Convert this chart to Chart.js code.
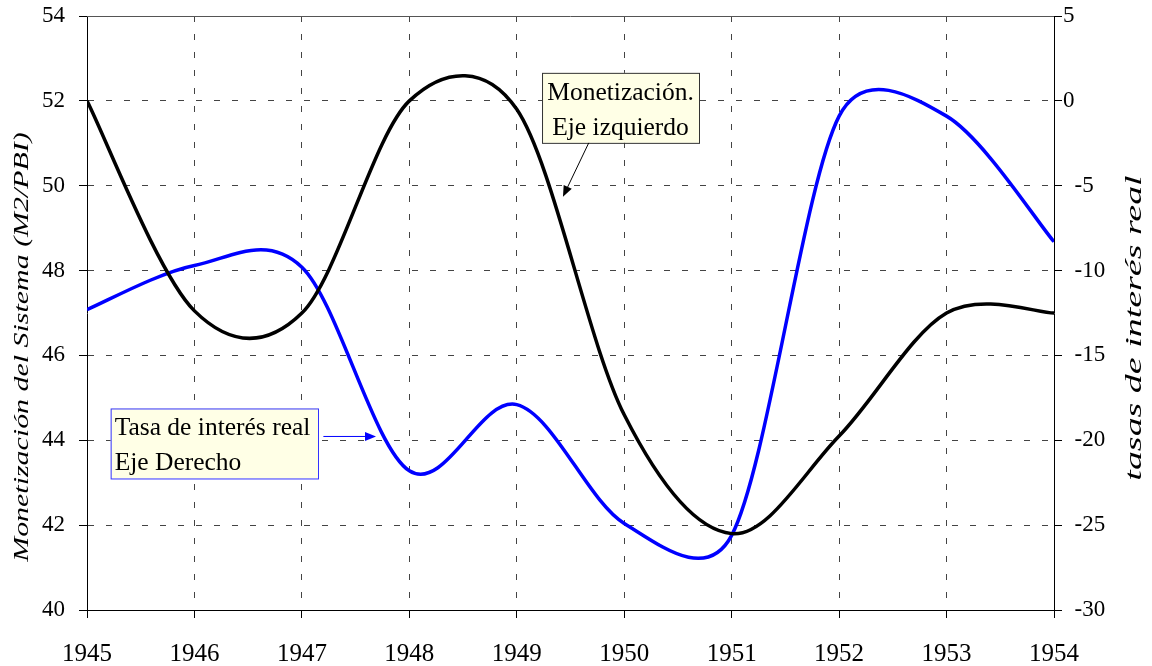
<!DOCTYPE html>
<html>
<head>
<meta charset="utf-8">
<script src="https://cdn.jsdelivr.net/npm/chart.js@4.4.1/dist/chart.umd.min.js"></script>
<style>
  html, body { margin: 0; padding: 0; background: #fff; }
  #wrap { width: 1152px; height: 666px; position: relative; }
</style>
</head>
<body>
<div id="wrap"><canvas id="chart"></canvas></div>
<script>
// --- datos ---
const years = [1945, 1946, 1947, 1948, 1949, 1950, 1951, 1952, 1953, 1954];
const monetizacion = [52.0, 47.05, 47.0, 52.0, 51.8, 44.6, 41.8, 44.1, 47.0, 47.0]; // eje izquierdo
const tasaReal = [-12.3, -9.7, -9.8, -21.8, -17.9, -24.9, -25.6, -0.9, -0.9, -8.3]; // eje derecho

const leftRange = [40, 54];
const rightRange = [-30, 5];

const SERIF = "'Liberation Serif', 'Times New Roman', serif";

// notas: posiciones en unidades de los ejes (año, eje izquierdo)
const notaMonetizacion = { lines: ['Monetización.', 'Eje izquierdo'], x0: 1949.235, x1: 1950.696, y0: 52.66, y1: 51.01,
  arrow: [1949.67, 51.01, 1949.43, 49.74], color: '#000', border: '#333', align: 'center' };
const notaTasa = { lines: ['Tasa de interés real', 'Eje Derecho'], x0: 1945.22, x1: 1947.15, y0: 44.75, y1: 43.10,
  arrow: [1947.20, 44.09, 1947.69, 44.09], color: '#0000ff', border: '#3333ff', align: 'left' };

// suavizado tipo Excel: Bezier con tangente (P2-P0)/6, limitada a medio segmento
const excelSmooth = {
  id: 'excelSmooth',
  beforeDatasetDraw(chart, args) {
    const meta = args.meta;
    const line = meta.dataset;
    line.updateControlPoints(chart.chartArea);
    const pts = meta.data;
    const n = pts.length;
    const dist = (a, b) => Math.hypot(b.x - a.x, b.y - a.y);
    for (let i = 0; i < n - 1; i++) {
      const p0 = pts[Math.max(i - 1, 0)], p1 = pts[i], p2 = pts[i + 1], p3 = pts[Math.min(i + 2, n - 1)];
      const d12 = dist(p1, p2), d02 = dist(p0, p2), d13 = dist(p1, p3);
      let f = 1 / 6, g = 1 / 6;
      if (d02 / 6 >= d12 / 2) f = d12 / 2 / d02;
      if (d13 / 6 >= d12 / 2) g = d12 / 2 / d13;
      p1.cp2x = p1.x + f * (p2.x - p0.x);
      p1.cp2y = p1.y + f * (p2.y - p0.y);
      p2.cp1x = p2.x - g * (p3.x - p1.x);
      p2.cp1y = p2.y - g * (p3.y - p1.y);
    }
    line._path = undefined;
  }
};

function drawArrow(ctx, x1, y1, x2, y2, color) {
  const ang = Math.atan2(y2 - y1, x2 - x1);
  const L = 11, W = 4.5;
  ctx.save();
  ctx.strokeStyle = color;
  ctx.fillStyle = color;
  ctx.lineWidth = 1;
  ctx.beginPath();
  ctx.moveTo(x1, y1);
  ctx.lineTo(x2 - L * Math.cos(ang) * 0.8, y2 - L * Math.sin(ang) * 0.8);
  ctx.stroke();
  ctx.beginPath();
  ctx.moveTo(x2, y2);
  ctx.lineTo(x2 - L * Math.cos(ang) + W * Math.sin(ang), y2 - L * Math.sin(ang) - W * Math.cos(ang));
  ctx.lineTo(x2 - L * Math.cos(ang) - W * Math.sin(ang), y2 - L * Math.sin(ang) + W * Math.cos(ang));
  ctx.closePath();
  ctx.fill();
  ctx.restore();
}

function drawNote(chart, n) {
  const { ctx, scales: { x, y } } = chart;
  const left = x.getPixelForValue(n.x0), right = x.getPixelForValue(n.x1);
  const top = y.getPixelForValue(n.y0), bottom = y.getPixelForValue(n.y1);
  ctx.save();
  ctx.fillStyle = '#ffffe6';
  ctx.fillRect(left, top, right - left, bottom - top);
  ctx.strokeStyle = n.border;
  ctx.lineWidth = 1;
  ctx.strokeRect(left + 0.5, top + 0.5, right - left, bottom - top);
  ctx.fillStyle = '#000';
  ctx.font = `25.5px ${SERIF}`;
  ctx.textBaseline = 'middle';
  const h = (bottom - top) / n.lines.length;
  n.lines.forEach((t, i) => {
    const cy = top + h * (i + 0.5) + 2.5;
    if (n.align === 'center') {
      ctx.textAlign = 'center';
      ctx.fillText(t, (left + right) / 2, cy);
    } else {
      ctx.textAlign = 'left';
      ctx.fillText(t, left + 4, cy);
    }
  });
  ctx.restore();
  const a = n.arrow;
  drawArrow(ctx, x.getPixelForValue(a[0]), y.getPixelForValue(a[1]),
    x.getPixelForValue(a[2]), y.getPixelForValue(a[3]), n.color);
}

// títulos verticales (leídos de abajo hacia arriba), algo estirados como en el original
function drawVerticalTitle(ctx, text, cx, cy, size, stretch) {
  ctx.save();
  ctx.translate(cx, cy);
  ctx.rotate(-Math.PI / 2);
  ctx.scale(stretch, 1);
  ctx.font = `italic ${size}px ${SERIF}`;
  ctx.fillStyle = '#000';
  ctx.textAlign = 'center';
  ctx.textBaseline = 'middle';
  ctx.fillText(text, 0, 0);
  ctx.restore();
}

const extras = {
  id: 'extras',
  afterDraw(chart) {
    const { ctx, chartArea: { left, right, top, bottom } } = chart;
    // borde superior del área de trazado
    ctx.save();
    ctx.strokeStyle = '#555';
    ctx.lineWidth = 1;
    ctx.beginPath();
    ctx.moveTo(left, top + 0.5);
    ctx.lineTo(right, top + 0.5);
    ctx.stroke();
    ctx.restore();
    drawVerticalTitle(ctx, 'Monetización del Sistema (M2/PBI)', 22, 347, 22, 1.36);
    drawVerticalTitle(ctx, 'tasas de interés real', right + 81, 328, 23, 1.65);
    drawNote(chart, notaMonetizacion);
    drawNote(chart, notaTasa);
  }
};

const gridColor = '#444';
const tickFont = { family: SERIF, size: 23 };
const noPadV = s => { s.paddingTop = 0; s.paddingBottom = 0; };

new Chart(document.getElementById('chart'), {
  type: 'line',
  data: {
    datasets: [
      {
        label: 'Monetización',
        data: years.map((yr, i) => ({ x: yr, y: monetizacion[i] })),
        borderColor: '#000',
        borderWidth: 3.5,
        pointRadius: 0,
        tension: 0.4,
        yAxisID: 'y'
      },
      {
        label: 'Tasa de interés real',
        data: years.map((yr, i) => ({ x: yr, y: tasaReal[i] })),
        borderColor: '#0000ff',
        borderWidth: 3.5,
        pointRadius: 0,
        tension: 0.4,
        yAxisID: 'y1'
      }
    ]
  },
  options: {
    responsive: true,
    maintainAspectRatio: false,
    animation: false,
    devicePixelRatio: 1,
    layout: { padding: { top: 16, right: 0, left: 0, bottom: 0 } },
    plugins: { legend: { display: false }, tooltip: { enabled: false } },
    scales: {
      x: {
        type: 'linear',
        min: years[0],
        max: years[years.length - 1],
        afterFit: s => { s.height = 56; s.paddingLeft = 0; s.paddingRight = 0; },
        ticks: {
          stepSize: 1,
          color: '#000',
          font: { family: SERIF, size: 25 },
          padding: 21,
          maxRotation: 0,
          callback: v => String(v)
        },
        grid: { color: gridColor, lineWidth: 1, tickColor: '#000', tickLength: 8, tickBorderDash: [] },
        border: { color: '#000', width: 1, dash: [6, 12] }
      },
      y: {
        position: 'left',
        min: leftRange[0],
        max: leftRange[1],
        afterFit: s => { s.width = 87; noPadV(s); },
        ticks: {
          stepSize: 2,
          color: '#000',
          font: tickFont,
          padding: 14,
          callback: v => String(v)
        },
        grid: { color: gridColor, lineWidth: 1, tickColor: '#000', tickLength: 8, tickBorderDash: [] },
        border: { color: '#000', width: 1, dash: [6, 12] }
      },
      y1: {
        position: 'right',
        min: rightRange[0],
        max: rightRange[1],
        afterFit: s => { s.width = 98; noPadV(s); },
        ticks: {
          stepSize: 5,
          color: '#000',
          font: tickFont,
          padding: 1,
          callback: v => (v < 0 ? '\u2002' + v : String(v))
        },
        grid: { drawOnChartArea: false, tickColor: '#000', tickLength: 8 },
        border: { color: '#000', width: 1 }
      }
    }
  },
  plugins: [excelSmooth, extras]
});
</script>
</body>
</html>
